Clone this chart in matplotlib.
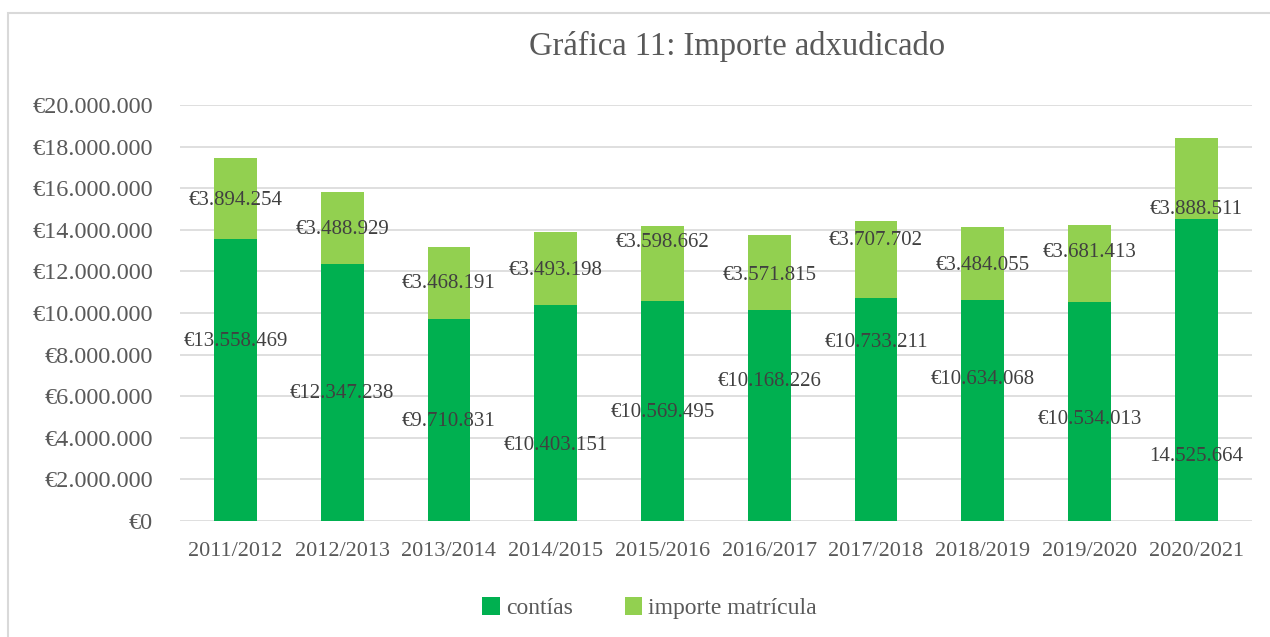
import numpy as np
import matplotlib.pyplot as plt
from matplotlib.patches import Rectangle

cursos = ["2011/2012", "2012/2013", "2013/2014", "2014/2015", "2015/2016",
          "2016/2017", "2017/2018", "2018/2019", "2019/2020", "2020/2021"]
contias = [13558469, 12347238, 9710831, 10403151, 10569495,
           10168226, 10733211, 10634068, 10534013, 14525664]
matricula = [3894254, 3488929, 3468191, 3493198, 3598662,
             3571815, 3707702, 3484055, 3681413, 3888511]

# label placement (data units), as moved by hand in the original
pos_contias = [8.65e6, 6.15e6, 4.8e6, 3.65e6, 5.2e6, 6.7e6, 8.6e6, 6.8e6, 4.86e6, 3.1e6]
pos_matricula = [15.43e6, 14.0e6, 11.4e6, 12.07e6, 13.37e6, 11.8e6, 13.5e6, 12.3e6, 12.9e6, 15.0e6]


def euro(v):
    return "€" + f"{v:,.0f}".replace(",", ".")


plt.rcParams['font.family'] = ['Liberation Serif', 'DejaVu Serif']
txt = "#595959"

fig = plt.figure(figsize=(12.7, 6.37), dpi=100)
ax = fig.add_axes([0.1417, 0.182, 0.844, 0.653])

x = np.arange(len(cursos))
ax.bar(x, contias, width=0.4, color="#00B050", label="contías", zorder=2)
ax.bar(x, matricula, width=0.4, bottom=contias, color="#92D050",
       label="importe matrícula", zorder=2)

for i in range(len(cursos)):
    lab = euro(contias[i])
    if i == len(cursos) - 1:
        lab = lab[1:]
    ax.text(x[i], pos_contias[i], lab, ha="center", va="center",
            fontsize=15, color="#404040", zorder=3)
    ax.text(x[i], pos_matricula[i], euro(matricula[i]), ha="center", va="center",
            fontsize=15, color="#404040", zorder=3)

ax.set_ylim(0, 20e6)
ax.set_xlim(-0.52, len(cursos) - 0.48)
ax.set_yticks(np.arange(0, 20e6 + 1, 2e6))
ax.set_yticklabels([euro(v) for v in np.arange(0, 20e6 + 1, 2e6)])
ax.set_xticks(x)
ax.set_xticklabels(cursos)
ax.tick_params(axis="both", length=0, colors=txt)
ax.tick_params(axis="y", pad=19.5, labelsize=17.5)
ax.tick_params(axis="x", pad=15, labelsize=16)
ax.grid(axis="y", color="#d9d9d9", linewidth=1.2, zorder=0)
for s in ax.spines.values():
    s.set_visible(False)

fig.text(0.58, 0.927, "Gráfica 11: Importe adxudicado", ha="center", va="center",
         fontsize=23.5, color=txt)

ax.legend(loc="center", bbox_to_anchor=(0.438, -0.21), ncol=2, frameon=False,
          fontsize=17, handlelength=0.75, handleheight=0.75, handletextpad=0.25,
          columnspacing=2.2, labelcolor=txt)

fig.patches.append(Rectangle((0.0065, -0.01), 1.1, 0.99, transform=fig.transFigure,
                             fill=False, edgecolor="#d9d9d9", linewidth=1.5))

fig.savefig("out.png", dpi=100)
